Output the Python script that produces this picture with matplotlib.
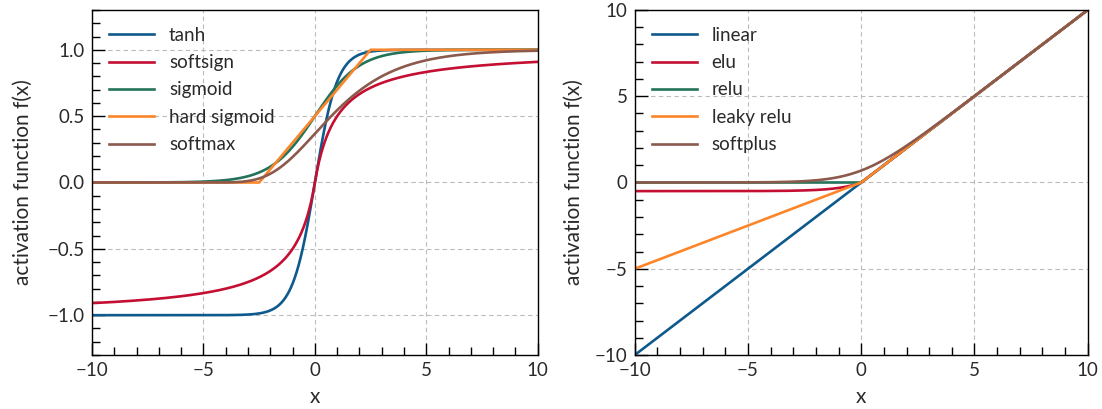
import numpy as np
import matplotlib
matplotlib.use("Agg")
import matplotlib.pyplot as plt
from matplotlib.ticker import MultipleLocator

# input grid
x = np.linspace(-10, 10, 2001)

left_names = ["tanh", "softsign", "sigmoid", "hard sigmoid", "softmax"]
right_names = ["linear", "elu", "relu", "leaky relu", "softplus"]
colors = ["#0f5a8c", "#c40f33", "#23735a", "#fb8528", "#8c5a4c"]

elu_alpha = 0.5
leaky_alpha = 0.5


def activations_left(x):
    return [
        np.tanh(x),
        x / (1 + np.abs(x)),
        1 / (1 + np.exp(-x)),
        np.clip(0.2 * x + 0.5, 0, 1),
        np.exp(-np.exp(-x / 2)),
    ]


def activations_right(x):
    return [
        x,
        np.where(x > 0, x, elu_alpha * (np.exp(x) - 1)),
        np.maximum(x, 0),
        np.where(x > 0, x, leaky_alpha * x),
        np.log1p(np.exp(x)),
    ]


plt.rcParams.update({
    "font.family": ["Lato", "DejaVu Sans"],
    "font.size": 13.5,
    "text.color": "#2a2a2a",
    "axes.labelcolor": "#2a2a2a",
    "xtick.color": "#000000",
    "ytick.color": "#000000",
    "xtick.labelcolor": "#2a2a2a",
    "ytick.labelcolor": "#2a2a2a",
    "axes.linewidth": 1.0,
})

fig = plt.figure(figsize=(11.02, 4.09), dpi=100)
ax1 = fig.add_axes([0.0835, 0.132, 0.4045, 0.8436])
ax2 = fig.add_axes([0.576, 0.132, 0.411, 0.8436])

for name, y, c in zip(left_names, activations_left(x), colors):
    ax1.plot(x, y, color=c, lw=1.9, label=name)
for name, y, c in zip(right_names, activations_right(x), colors):
    ax2.plot(x, y, color=c, lw=1.9, label=name)

ax1.set_ylim(-1.3, 1.3)
ax1.yaxis.set_major_locator(MultipleLocator(0.5))
ax1.yaxis.set_minor_locator(MultipleLocator(0.1))
ax2.set_ylim(-10, 10)
ax2.yaxis.set_major_locator(MultipleLocator(5))
ax2.yaxis.set_minor_locator(MultipleLocator(1))

for ax, ypad in ((ax1, 11), (ax2, 8)):
    ax.set_xlim(-10, 10)
    ax.xaxis.set_major_locator(MultipleLocator(5))
    ax.xaxis.set_minor_locator(MultipleLocator(1))
    ax.tick_params(which="both", direction="in", top=False, right=False)
    ax.tick_params(which="major", length=9, width=1.0, pad=5)
    ax.tick_params(which="minor", length=5.5, width=1.0)
    ax.grid(True, which="major", ls=(0, (4, 3)), color="#bbbbbb", lw=0.8)
    ax.set_xlabel("x", fontsize=15, labelpad=6)
    ax.set_ylabel("activation function f(x)", fontsize=15, labelpad=ypad)
    ax.legend(loc="upper left", frameon=False, handlelength=2.4,
              labelspacing=0.55, borderaxespad=0.5, handletextpad=0.8)

fig.savefig("out.png", dpi=100)
